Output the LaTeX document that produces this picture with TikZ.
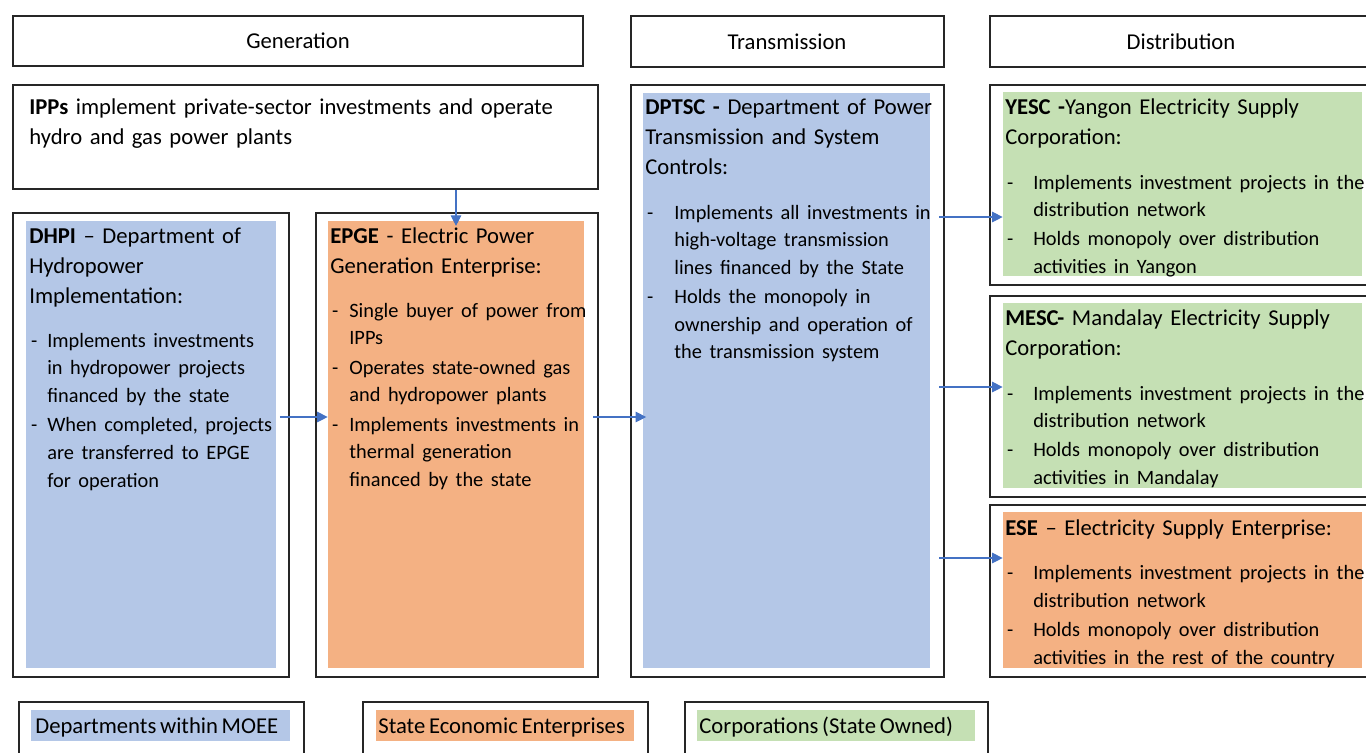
\documentclass[tikz,border=0pt]{standalone}
\usepackage{fontspec}
\setmainfont{Carlito}[WordSpace=0.72]
\usepackage{xcolor}
\usetikzlibrary{arrows.meta,fit}

\definecolor{deptblue}{HTML}{B4C7E7}
\definecolor{seeorange}{HTML}{F4B183}
\definecolor{corpgreen}{HTML}{C5E0B4}
\definecolor{linkblue}{HTML}{4472C4}

\newcommand{\hd}{\fontsize{12.9}{17.2}\selectfont}
\newcommand{\bd}{\fontsize{11.6}{15.7}\selectfont}
\newlength{\dind}
% dash item with hanging indent
\newcommand{\itm}{\par\vspace{1pt}\hangindent=\dind\hangafter=1\noindent\makebox[\dind][l]{\hspace{1pt}-}}

\begin{document}
\begin{tikzpicture}[x=0.02cm, y=-0.02cm,
    frame/.style={draw=black!85, line width=0.7pt, inner sep=0pt},
    dept/.style={fill=deptblue, inner sep=0pt},
    see/.style={fill=seeorange, inner sep=0pt},
    corp/.style={fill=corpgreen, inner sep=0pt},
    lbl/.style={inner sep=0pt, font=\hd},
    txt/.style={anchor=base west, inner sep=0pt, align=left, text width=11cm, font=\hd},
    link/.style={draw=linkblue, line width=0.6pt, -{Triangle[length=6pt,width=6pt]}}]
  \useasboundingbox (0,0) rectangle (1366,752);

  % column headers
  \node[frame, fit={(13,16) (583,66)}] (gen) {};
  \node[frame, fit={(631,16) (944,67)}] (trans) {};
  \node[frame, fit={(990,16) (1372,67)}] (dist) {};
  \node[lbl] (genT) at (298,41) {Generation};
  \node[lbl] (transT) at (787,42) {Transmission};
  \node[lbl] (distT) at (1181,42) {Distribution};

  % frames
  \node[frame, fit={(13,85) (598,189)}] (ipps) {};
  \node[frame, fit={(13,213) (289,677)}] (dhpi) {};
  \node[frame, fit={(316,213) (598,677)}] (epge) {};
  \node[frame, fit={(631,85) (944,677)}] (dptsc) {};
  \node[frame, fit={(990,85) (1372,285)}] (yesc) {};
  \node[frame, fit={(990,296) (1372,497)}] (mesc) {};
  \node[frame, fit={(990,505) (1372,677)}] (ese) {};

  % coloured panels
  \node[dept, fit={(26,221) (276,668)}] (dhpiF) {};
  \node[see, fit={(328,221) (584,668)}] (epgeF) {};
  \node[dept, fit={(643,93) (930,668)}] (dptscF) {};
  \node[corp, fit={(1003,92) (1362,276)}] (yescF) {};
  \node[corp, fit={(1003,303) (1362,488)}] (mescF) {};
  \node[see, fit={(1003,512) (1362,668)}] (eseF) {};

  % texts
  \node[txt] (ippsT) at (29,114) {\textbf{IPPs} implement private-sector investments and operate\\hydro and gas power plants};
  \node[txt] (dhpiT) at (29,243) {{\textbf{DHPI} -- Department of\\Hydropower\\Implementation:\par}
    \vspace{8.3pt}\bd\setlength{\dind}{10.2pt}
    \itm Implements investments\newline in hydropower projects\newline financed by the state
    \itm When completed, projects\newline are transferred to EPGE\newline for operation\par};
  \node[txt] (epgeT) at (330,243) {{\textbf{EPGE} - Electric Power\\Generation Enterprise:\par}
    \vspace{8.3pt}\bd\setlength{\dind}{10.8pt}
    \itm Single buyer of power from\newline IPPs
    \itm Operates state-owned gas\newline and hydropower plants
    \itm Implements investments in\newline thermal generation\newline financed by the state\par};
  \node[txt] (dptscT) at (645,114) {{\textbf{DPTSC -} Department of Power\\Transmission and System\\Controls:\par}
    \vspace{8.8pt}\bd\setlength{\dind}{16.5pt}
    \itm Implements all investments in\newline high-voltage transmission\newline lines financed by the State
    \itm Holds the monopoly in\newline ownership and operation of\newline the transmission system\par};
  \node[txt] (yescT) at (1005,114) {{\textbf{YESC -}Yangon Electricity Supply\\Corporation:\par}
    \vspace{8.8pt}\bd\setlength{\dind}{15.9pt}
    \itm Implements investment projects in the\newline distribution network
    \itm Holds monopoly over distribution\newline activities in Yangon\par};
  \node[txt] (mescT) at (1005,325) {{\textbf{MESC-} Mandalay Electricity Supply\\Corporation:\par}
    \vspace{8.8pt}\bd\setlength{\dind}{15.9pt}
    \itm Implements investment projects in the\newline distribution network
    \itm Holds monopoly over distribution\newline activities in Mandalay\par};
  \node[txt] (eseT) at (1005,535) {{\textbf{ESE} -- Electricity Supply Enterprise:\par}
    \vspace{8.8pt}\bd\setlength{\dind}{15.9pt}
    \itm Implements investment projects in the\newline distribution network
    \itm Holds monopoly over distribution\newline activities in the rest of the country\par};

  % legend
  \node[frame, fit={(19,702) (304,760)}] (lg1) {};
  \node[frame, fit={(363,702) (648,760)}] (lg2) {};
  \node[frame, fit={(685,702) (988,760)}] (lg3) {};
  \node[dept, fit={(31,710) (290,741)}] (lg1F) {};
  \node[see, fit={(376,710) (634,741)}] (lg2F) {};
  \node[corp, fit={(697,710) (975,741)}] (lg3F) {};
  \node[lbl, anchor=base west] (lg1T) at (35,733) {Departments within MOEE};
  \node[lbl, anchor=base west] (lg2T) at (378,733) {State Economic Enterprises};
  \node[lbl, anchor=base west] (lg3T) at (699,733) {Corporations (State Owned)};

  % flows
  \coordinate (c1) at (456,0);
  \coordinate (r1) at (0,417);
  \coordinate (r2) at (0,217);
  \coordinate (r3) at (0,387);
  \coordinate (r4) at (0,558);
  \draw[link] (ipps.south -| c1) -- ([yshift=-3pt]epgeF.north -| c1);
  \draw[link] ([xshift=2pt]dhpiF.east |- r1) -- (epgeF.west |- r1);
  \draw[link] ([xshift=5pt]epgeF.east |- r1) -- ([xshift=2pt]dptscF.west |- r1);
  \draw[link] ([xshift=5pt]dptscF.east |- r2) -- (yescF.west |- r2);
  \draw[link] ([xshift=5pt]dptscF.east |- r3) -- (mescF.west |- r3);
  \draw[link] ([xshift=5pt]dptscF.east |- r4) -- (eseF.west |- r4);
\end{tikzpicture}
\end{document}
